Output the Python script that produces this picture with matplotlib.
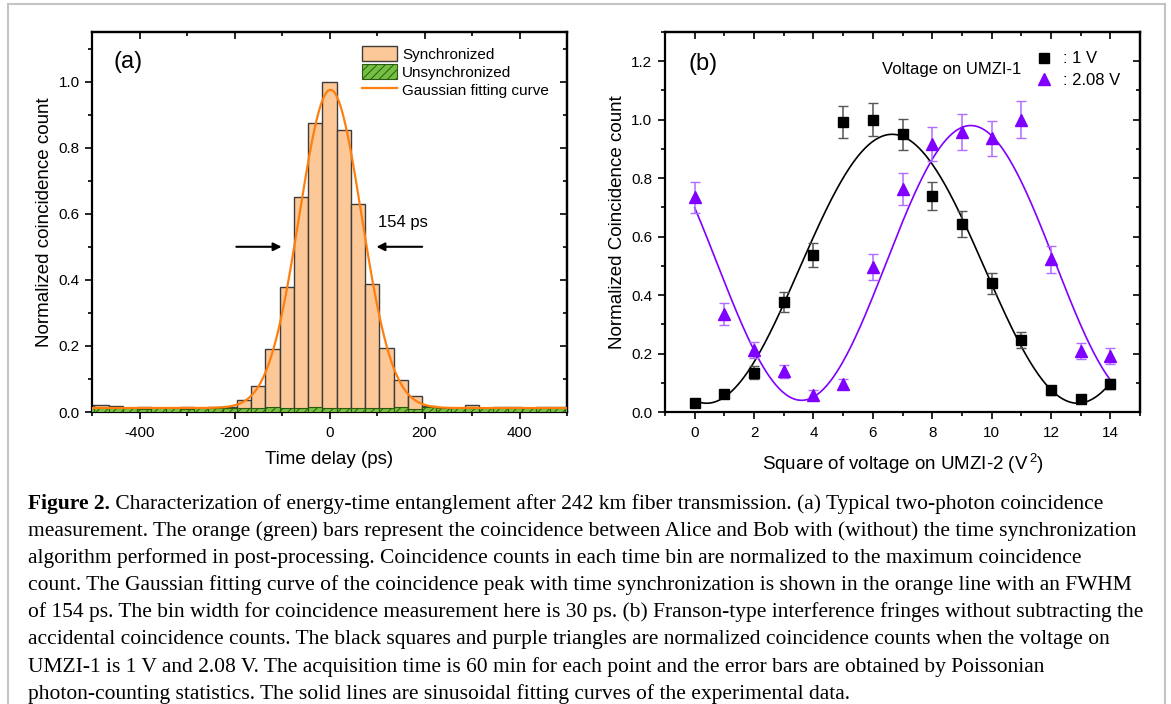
import numpy as np
import matplotlib
matplotlib.use("Agg")
import matplotlib.pyplot as plt
from matplotlib.ticker import MultipleLocator
from matplotlib.patches import Patch
from matplotlib.lines import Line2D

plt.rcParams['font.family'] = ['Liberation Sans', 'DejaVu Sans']
plt.rcParams['mathtext.fontset'] = 'custom'
plt.rcParams['mathtext.rm'] = 'Liberation Sans'
plt.rcParams['hatch.linewidth'] = 0.7
plt.rcParams['axes.unicode_minus'] = False

# ---------------- data: panel (a) ----------------
bin_centers_ps = [-510, -480, -450, -420, -390, -360, -330, -300, -270, -240, -210,
                  -180, -150, -120, -90, -60, -30, 0, 30, 60, 90, 120, 150, 180,
                  210, 240, 270, 300, 330, 360, 390, 420, 450, 480, 510]
synchronized = [0.020, 0.020, 0.018, 0.013, 0.015, 0.013, 0.012, 0.015, 0.013, 0.015, 0.016,
                0.035, 0.078, 0.190, 0.377, 0.652, 0.875, 1.000, 0.853, 0.628, 0.388, 0.194,
                0.098, 0.047, 0.018, 0.012, 0.012, 0.020, 0.013, 0.015, 0.014, 0.013, 0.014,
                0.015, 0.015]
unsynchronized = [0.012, 0.013, 0.011, 0.012, 0.010, 0.011, 0.012, 0.010, 0.011, 0.012, 0.011,
                  0.012, 0.013, 0.014, 0.013, 0.013, 0.016, 0.012, 0.011, 0.013, 0.011, 0.012,
                  0.014, 0.010, 0.014, 0.012, 0.011, 0.012, 0.013, 0.012, 0.011, 0.012, 0.013,
                  0.012, 0.012]
bin_width_ps = 30
# Gaussian fit parameters
gauss_offset = 0.012
gauss_amp = 0.963
gauss_center = 2.0
gauss_fwhm = 154.0

# ---------------- data: panel (b) ----------------
voltage_sq = [0, 1, 2, 3, 4, 5, 6, 7, 8, 9, 10, 11, 12, 13, 14]
counts_1V = [0.031, 0.061, 0.134, 0.377, 0.536, 0.993, 1.000, 0.950, 0.739, 0.643,
             0.441, 0.246, 0.074, 0.043, 0.095]
err_1V = [0.010, 0.013, 0.022, 0.034, 0.041, 0.054, 0.056, 0.053, 0.048, 0.044,
          0.036, 0.027, 0.015, 0.011, 0.017]
counts_208V = [0.735, 0.335, 0.211, 0.139, 0.059, 0.095, 0.497, 0.762, 0.917, 0.959,
               0.936, 1.000, 0.522, 0.208, 0.192]
err_208V = [0.053, 0.037, 0.027, 0.022, 0.015, 0.018, 0.045, 0.055, 0.058, 0.061,
            0.060, 0.063, 0.045, 0.028, 0.027]
# sinusoidal fit parameters (offset, amplitude, peak position, period)
fit_1V = (0.490, 0.460, 6.65, 12.5)
fit_208V = (0.510, 0.470, 9.30, 11.4)

caption_bold = "Figure 2."
caption_lines = [
    " Characterization of energy-time entanglement after 242 km fiber transmission. (a) Typical two-photon coincidence",
    "measurement. The orange (green) bars represent the coincidence between Alice and Bob with (without) the time synchronization",
    "algorithm performed in post-processing. Coincidence counts in each time bin are normalized to the maximum coincidence",
    "count. The Gaussian fitting curve of the coincidence peak with time synchronization is shown in the orange line with an FWHM",
    "of 154 ps. The bin width for coincidence measurement here is 30 ps. (b) Franson-type interference fringes without subtracting the",
    "accidental coincidence counts. The black squares and purple triangles are normalized coincidence counts when the voltage on",
    "UMZI-1 is 1 V and 2.08 V. The acquisition time is 60 min for each point and the error bars are obtained by Poissonian",
    "photon-counting statistics. The solid lines are sinusoidal fitting curves of the experimental data.",
]

# ---------------- figure ----------------
W, H = 1171, 704
fig = plt.figure(figsize=(W / 100, H / 100), dpi=100)

SPINE_LW = 1.6
TICK_KW = dict(width=1.2, labelsize=11)


def style_axes(ax, xmaj, xmin, ymaj, ymin):
    for s in ax.spines.values():
        s.set_linewidth(SPINE_LW)
    ax.xaxis.set_major_locator(MultipleLocator(xmaj))
    ax.xaxis.set_minor_locator(MultipleLocator(xmin))
    ax.yaxis.set_major_locator(MultipleLocator(ymaj))
    ax.yaxis.set_minor_locator(MultipleLocator(ymin))
    ax.tick_params(which='both', direction='out', top=False, right=False, **TICK_KW)
    ax.tick_params(which='major', length=5)
    ax.tick_params(which='minor', length=3)
    ax.tick_params(axis='x', pad=5)
    ax.tick_params(axis='y', pad=4)
    secx = ax.secondary_xaxis('top')
    secx.xaxis.set_major_locator(MultipleLocator(xmaj))
    secx.xaxis.set_minor_locator(MultipleLocator(xmin))
    secx.tick_params(which='both', direction='in', labeltop=False, width=1.2)
    secx.tick_params(which='major', length=5)
    secx.tick_params(which='minor', length=3)
    secx.spines['top'].set_linewidth(SPINE_LW)
    secy = ax.secondary_yaxis('right')
    secy.yaxis.set_major_locator(MultipleLocator(ymaj))
    secy.yaxis.set_minor_locator(MultipleLocator(ymin))
    secy.tick_params(which='both', direction='in', labelright=False, width=1.2)
    secy.tick_params(which='major', length=5)
    secy.tick_params(which='minor', length=3)
    secy.spines['right'].set_linewidth(SPINE_LW)


# ---- panel (a) ----
axA = fig.add_axes([92 / W, 1 - 412 / H, 475 / W, 380 / H])
axA.bar(bin_centers_ps, synchronized, width=bin_width_ps, color='#FDC898',
        edgecolor='#3c3c3c', linewidth=1.0, zorder=2, label='Synchronized')
axA.bar(bin_centers_ps, unsynchronized, width=bin_width_ps, color='#74C043',
        edgecolor='#2c5a10', linewidth=0.8, hatch='////', zorder=3,
        label='Unsynchronized')
xg = np.linspace(-500, 500, 1001)
yg = gauss_offset + gauss_amp * np.exp(-4 * np.log(2) * (xg - gauss_center) ** 2 / gauss_fwhm ** 2)
axA.plot(xg, yg, color='#FF7F0E', lw=1.6, zorder=4, label='Gaussian fitting curve')
axA.set_xlim(-500, 500)
axA.set_ylim(0, 1.15)
style_axes(axA, 200, 100, 0.2, 0.1)
axA.set_xlabel('Time delay (ps)', fontsize=13.5, labelpad=8)
axA.set_ylabel('Normalized coincidence count', fontsize=13.5, labelpad=4)

half = gauss_fwhm / 2
axA.annotate('', xy=(-half - 18, 0.5), xytext=(-202, 0.5),
             arrowprops=dict(arrowstyle='-|>', color='black', lw=1.5, mutation_scale=12))
axA.annotate('', xy=(half + 16, 0.5), xytext=(201, 0.5),
             arrowprops=dict(arrowstyle='-|>', color='black', lw=1.5, mutation_scale=12))
axA.text(103, 0.575, '154 ps', fontsize=12, ha='left', va='center')
axA.text(-425, 1.058, '(a)', fontsize=17, ha='center', va='center')

handlesA = [Patch(facecolor='#FDC898', edgecolor='#3c3c3c', linewidth=1.0),
            Patch(facecolor='#74C043', edgecolor='#2c5a10', hatch='////', linewidth=0.8),
            Line2D([], [], color='#FF7F0E', lw=1.6)]
axA.legend(handlesA, ['Synchronized', 'Unsynchronized', 'Gaussian fitting curve'],
           loc='upper left', bbox_to_anchor=(0.568, 0.962), frameon=False,
           fontsize=11, borderpad=0, borderaxespad=0, handlelength=2.3,
           handleheight=1.1, labelspacing=0.15, handletextpad=0.35)

# ---- panel (b) ----
axB = fig.add_axes([665 / W, 1 - 412 / H, 475 / W, 380 / H])
xs = np.linspace(0, 14, 400)
for (off, amp, pk, per), col in [(fit_1V, 'black'), (fit_208V, '#8000FF')]:
    axB.plot(xs, off + amp * np.cos(2 * np.pi * (xs - pk) / per), color=col, lw=1.2, zorder=2)
axB.errorbar(voltage_sq, counts_1V, yerr=err_1V, fmt='none', ecolor='#555555',
             elinewidth=1.1, capsize=3.5, capthick=1.0, zorder=3)
axB.errorbar(voltage_sq, counts_208V, yerr=err_208V, fmt='none', ecolor='#B06CFF',
             elinewidth=1.1, capsize=3.5, capthick=1.0, zorder=3)
axB.plot(voltage_sq, counts_1V, 's', color='black', ms=7, zorder=4, label=': 1 V')
axB.plot(voltage_sq, counts_208V, '^', color='#8000FF', ms=8, zorder=4, label=': 2.08 V')
axB.set_xlim(-1, 15)
axB.set_ylim(0, 1.3)
style_axes(axB, 2, 1, 0.2, 0.1)
axB.set_xlabel('Square of voltage on UMZI-2 (V$^{\\,2}$)', fontsize=13.5, labelpad=8)
axB.set_ylabel('Normalized Coincidence count', fontsize=13.5, labelpad=4)
axB.text(0.27, 1.19, '(b)', fontsize=17, ha='center', va='center')
axB.text(6.3, 1.172, 'Voltage on UMZI-1', fontsize=12, ha='left', va='center')
axB.legend(loc='upper left', bbox_to_anchor=(0.781, 0.949), frameon=False,
           fontsize=12, borderpad=0, borderaxespad=0, handlelength=1.0,
           labelspacing=0.4, handletextpad=0.6)

# ---- border ----
bc = '#c4c4c4'
fig.add_artist(Line2D([8 / W, 8 / W], [0, 1 - 4 / H], color=bc, lw=1.5))
fig.add_artist(Line2D([8 / W, 1165 / W], [1 - 4 / H, 1 - 4 / H], color=bc, lw=1.5))
fig.add_artist(Line2D([1165 / W, 1165 / W], [0, 1 - 4 / H], color=bc, lw=1.5))

# ---- caption ----
cap_font = ['Liberation Serif', 'DejaVu Serif']
renderer = fig.canvas.get_renderer()
probe = fig.text(0, 0, caption_lines[1], fontsize=15, family=cap_font)
wprobe = probe.get_window_extent(renderer).width
probe.remove()
cap_size = 15 * (1113 / wprobe)
x0 = 28 / W
line_y0 = 504
line_dy = 27.1
tb = fig.text(x0, 1 - line_y0 / H, caption_bold, fontsize=cap_size, family=cap_font,
              weight='bold', va='center')
bw = tb.get_window_extent(renderer).width
fig.text(x0 + bw / W, 1 - line_y0 / H, caption_lines[0], fontsize=cap_size,
         family=cap_font, va='center')
for i, line in enumerate(caption_lines[1:], start=1):
    fig.text(x0, 1 - (line_y0 + i * line_dy) / H, line, fontsize=cap_size,
             family=cap_font, va='center')

fig.savefig('out.png', dpi=100)
